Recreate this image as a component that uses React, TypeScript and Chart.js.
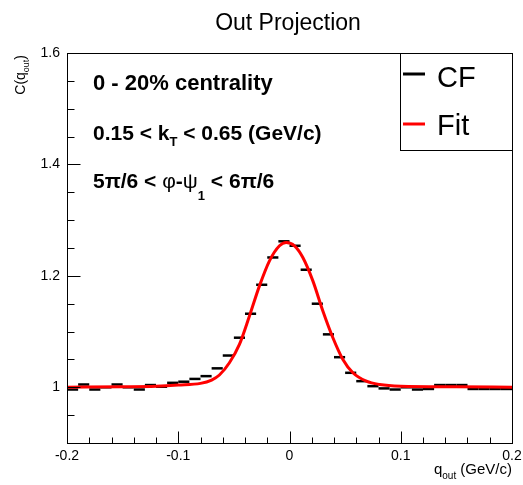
import React, { useEffect, useRef } from "react";
import { Chart, registerables } from "chart.js";

Chart.register(...registerables);

const TITLE = "Out Projection";
const FONT = "'Liberation Sans', Arial, Helvetica, sans-serif";

// CF histogram: bin centres (GeV/c) and values
const binCenters = [
  -0.195, -0.185, -0.175, -0.165, -0.155, -0.145, -0.135, -0.125, -0.115, -0.105,
  -0.095, -0.085, -0.075, -0.065, -0.055, -0.045, -0.035, -0.025, -0.015, -0.005,
  0.005, 0.015, 0.025, 0.035, 0.045, 0.055, 0.065, 0.075, 0.085, 0.095,
  0.105, 0.115, 0.125, 0.135, 0.145, 0.155, 0.165, 0.175, 0.185, 0.195,
];
const cfValues = [
  0.996, 1.005, 0.996, 1.0, 1.005, 1.0, 0.996, 1.004, 1.001, 1.008,
  1.01, 1.015, 1.02, 1.034, 1.057, 1.089, 1.132, 1.184, 1.233, 1.262,
  1.254, 1.211, 1.15, 1.095, 1.054, 1.026, 1.011, 1.002, 0.998, 0.996,
  1.0, 0.996, 0.997, 1.004, 1.004, 1.004, 0.997, 0.997, 0.997, 0.997,
];
const binHalfWidth = 0.005;

// Fit curve
const fitQ = [
  -0.2, -0.15, -0.12, -0.1, -0.08, -0.07, -0.063, -0.054, -0.045, -0.036, -0.027,
  -0.018, -0.009, -0.003, 0.0045, 0.012, 0.021, 0.03, 0.039, 0.048, 0.057, 0.069,
  0.081, 0.1, 0.15, 0.2,
];
const fitC = [
  1.0, 1.001, 1.002, 1.004, 1.007, 1.013, 1.022, 1.044, 1.077, 1.128, 1.182,
  1.227, 1.254, 1.26, 1.254, 1.233, 1.191, 1.137, 1.089, 1.05, 1.026, 1.011,
  1.005, 1.002, 1.001, 1.0,
];

const xMajorTicks = [-0.2, -0.1, 0, 0.1, 0.2];
const xMinorTicks = [
  -0.18, -0.16, -0.14, -0.12, -0.08, -0.06, -0.04, -0.02,
  0.02, 0.04, 0.06, 0.08, 0.12, 0.14, 0.16, 0.18,
];
const yMajorTicks = [1, 1.2, 1.4, 1.6];
const yMinorTicks = [0.95, 1.05, 1.1, 1.15, 1.25, 1.3, 1.35, 1.45, 1.5, 1.55];

const seriesLabels = ["CF", "Fit"];
const seriesColors = ["#000000", "#ff0000"];

type Part = { text: string; font: string; dy?: number };

const B = (s: number) => `bold ${s}px ${FONT}`;
const R = (s: number) => `${s}px ${FONT}`;

const annotationLines: Part[][] = [
  [{ text: "0 - 20% centrality", font: B(22) }],
  [
    { text: "0.15 < k", font: B(21) },
    { text: "T", font: B(13), dy: 6 },
    { text: " < 0.65 (GeV/c)", font: B(21) },
  ],
  [
    { text: "5π/6 < ", font: B(21) },
    { text: "φ", font: R(21) },
    { text: "-", font: B(21) },
    { text: "ψ", font: R(21) },
    { text: "1", font: B(13), dy: 12 },
    { text: " < 6π/6", font: B(21) },
  ],
];
const annotationBaselines = [90, 140, 188];

function drawParts(ctx: CanvasRenderingContext2D, parts: Part[], x: number, y: number) {
  let cx = x;
  for (const p of parts) {
    ctx.font = p.font;
    ctx.fillText(p.text, cx, y + (p.dy || 0));
    cx += ctx.measureText(p.text).width;
  }
  return cx;
}

const rootPlugin = {
  id: "rootStyle",
  afterDraw(chart: any) {
    const { ctx, chartArea: a, scales } = chart;
    const xs = scales.x;
    const ys = scales.y;
    ctx.save();
    ctx.fillStyle = "#000";
    ctx.strokeStyle = "#000";
    ctx.lineWidth = 1;
    // frame
    ctx.strokeRect(Math.round(a.left) + 0.5, Math.round(a.top) + 0.5, Math.round(a.right - a.left), Math.round(a.bottom - a.top));
    // inward ticks
    ctx.beginPath();
    const bot = Math.round(a.bottom) + 0.5;
    const lft = Math.round(a.left) + 0.5;
    for (const v of xMajorTicks) {
      const px = Math.round(xs.getPixelForValue(v)) + 0.5;
      ctx.moveTo(px, bot);
      ctx.lineTo(px, bot - 12);
    }
    for (const v of xMinorTicks) {
      const px = Math.round(xs.getPixelForValue(v)) + 0.5;
      ctx.moveTo(px, bot);
      ctx.lineTo(px, bot - 6);
    }
    for (const v of yMajorTicks) {
      const py = Math.round(ys.getPixelForValue(v)) + 0.5;
      ctx.moveTo(lft, py);
      ctx.lineTo(lft + 13, py);
    }
    for (const v of yMinorTicks) {
      const py = Math.round(ys.getPixelForValue(v)) + 0.5;
      ctx.moveTo(lft, py);
      ctx.lineTo(lft + 7, py);
    }
    ctx.stroke();

    // title
    ctx.textAlign = "center";
    ctx.textBaseline = "alphabetic";
    ctx.font = R(23);
    ctx.fillText(TITLE, 288, 30);

    // annotations
    ctx.textAlign = "left";
    annotationLines.forEach((parts, i) => drawParts(ctx, parts, 93, annotationBaselines[i]));

    // x axis title, right aligned to frame
    {
      const parts: Part[] = [
        { text: "q", font: R(15) },
        { text: "out", font: R(10), dy: 5 },
        { text: " (GeV/c)", font: R(15) },
      ];
      let w = 0;
      for (const p of parts) { ctx.font = p.font; w += ctx.measureText(p.text).width; }
      drawParts(ctx, parts, a.right - w, 474);
    }
    // y axis title, rotated, right aligned to top of frame
    {
      const parts: Part[] = [
        { text: "C(q", font: R(14) },
        { text: "out", font: R(9), dy: 4 },
        { text: ")", font: R(14) },
      ];
      let w = 0;
      for (const p of parts) { ctx.font = p.font; w += ctx.measureText(p.text).width; }
      ctx.save();
      ctx.translate(25, a.top + 2 + w);
      ctx.rotate(-Math.PI / 2);
      drawParts(ctx, parts, 0, 0);
      ctx.restore();
    }

    // legend box
    const lx0 = 400.5, ly0 = Math.round(a.top) + 0.5, lx1 = Math.round(a.right) + 0.5, ly1 = 150.5;
    ctx.fillStyle = "#fff";
    ctx.fillRect(lx0, ly0, lx1 - lx0, ly1 - ly0);
    ctx.strokeStyle = "#000";
    ctx.lineWidth = 1;
    ctx.strokeRect(lx0, ly0, lx1 - lx0, ly1 - ly0);
    const rowY = [74, 124];
    const textBase = [86.5, 135];
    chart.data.datasets.slice().sort((d1: any, d2: any) => d1.legendIndex - d2.legendIndex).forEach((ds: any, i: number) => {
      ctx.strokeStyle = ds.borderColor;
      ctx.lineWidth = 3;
      ctx.beginPath();
      ctx.moveTo(403, rowY[i]);
      ctx.lineTo(425, rowY[i]);
      ctx.stroke();
      ctx.fillStyle = "#000";
      ctx.font = R(29);
      ctx.textAlign = "left";
      ctx.fillText(ds.label, 437, textBase[i]);
    });
    ctx.restore();
  },
};

export default function App() {
  const ref = useRef<HTMLCanvasElement | null>(null);
  useEffect(() => {
    if (!ref.current) return;
    const cfData = binCenters.map((x, i) => ({ x, y: cfValues[i] }));
    const fitData = fitQ.map((x, i) => ({ x, y: fitC[i] }));
    const chart = new Chart(ref.current, {
      type: "scatter",
      data: {
        datasets: [
          {
            label: seriesLabels[0],
            legendIndex: 0,
            data: cfData,
            borderColor: seriesColors[0],
            backgroundColor: seriesColors[0],
            pointStyle: "line",
            borderWidth: 2.5,
            pointRadius: (c: any) => {
              const xs = c.chart.scales.x;
              return xs.getPixelForValue(binHalfWidth) - xs.getPixelForValue(0);
            },
            order: 1,
          } as any,
          {
            label: seriesLabels[1],
            legendIndex: 1,
            data: fitData,
            borderColor: seriesColors[1],
            backgroundColor: seriesColors[1],
            borderWidth: 3,
            showLine: true,
            pointRadius: 0,
            cubicInterpolationMode: "monotone",
            order: 0,
          } as any,
        ],
      },
      options: {
        responsive: false,
        animation: false,
        events: [],
        layout: { padding: { top: 53, right: 11, left: 0, bottom: 0 } },
        plugins: { legend: { display: false }, tooltip: { enabled: false }, title: { display: false } },
        scales: {
          x: {
            type: "linear",
            min: -0.2,
            max: 0.2,
            grid: { display: false, drawTicks: false },
            border: { display: false },
            afterBuildTicks: (s: any) => { s.ticks = xMajorTicks.map((v) => ({ value: v })); },
            afterFit: (s: any) => { s.height = 42; s.paddingLeft = 0; s.paddingRight = 0; },
            ticks: {
              autoSkip: false,
              maxRotation: 0,
              padding: 5,
              color: "#000",
              font: { family: FONT, size: 14 },
              callback: (v: any) => String(v),
            },
          },
          y: {
            type: "linear",
            min: 0.9,
            max: 1.6,
            grid: { display: false, drawTicks: false },
            border: { display: false },
            afterBuildTicks: (s: any) => { s.ticks = yMajorTicks.map((v) => ({ value: v })); },
            afterFit: (s: any) => { s.width = 67; s.paddingTop = 0; s.paddingBottom = 0; },
            ticks: {
              autoSkip: false,
              padding: 7,
              color: "#000",
              font: { family: FONT, size: 14 },
              callback: (v: any) => String(v),
            },
          },
        },
      },
      plugins: [rootPlugin],
    } as any);
    return () => chart.destroy();
  }, []);
  return (
    <div style={{ position: "absolute", left: 0, top: 0, width: 523, height: 485, background: "#fff" }}>
      <canvas ref={ref} width={523} height={485} style={{ display: "block" }} />
    </div>
  );
}
